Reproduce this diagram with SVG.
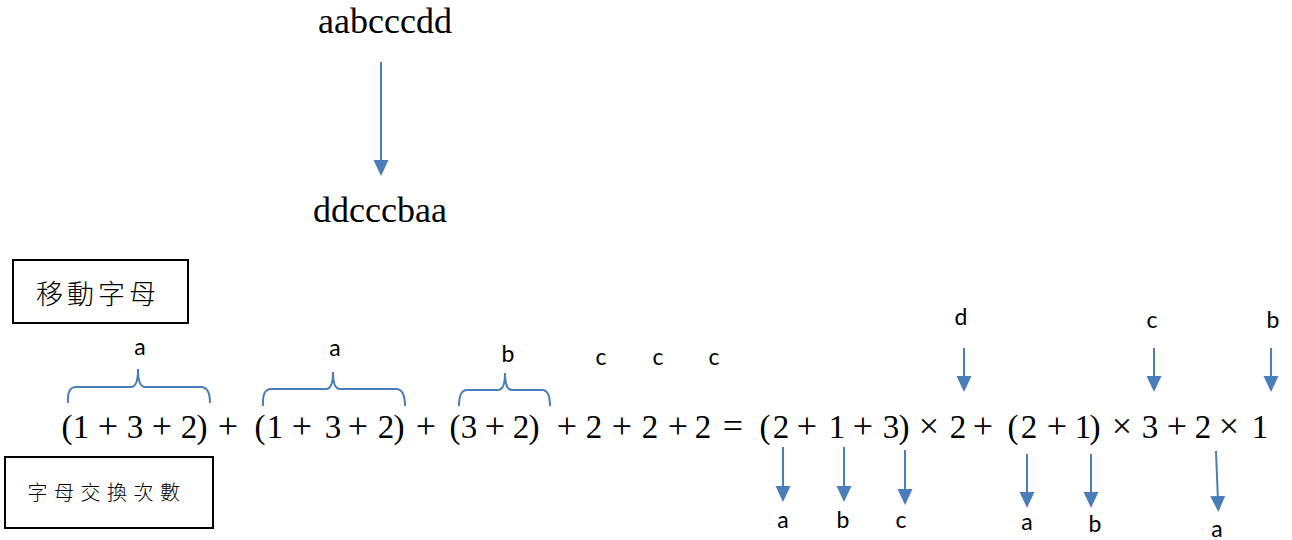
<svg xmlns="http://www.w3.org/2000/svg" width="1292" height="540" viewBox="0 0 1292 540">
<style>
.top{font-family:"Liberation Serif",serif;font-size:36px;fill:#000}
.eq{font-family:"Liberation Serif",serif;font-size:33px;fill:#000;text-anchor:middle}
.op{font-size:36px}
.lbl{font-family:Lato,"Liberation Sans",sans-serif;font-size:23px;fill:#000;text-anchor:middle}
.box{fill:#fff;stroke:#000;stroke-width:2}
.cjk{font-family:"Noto Sans CJK TC","Noto Sans CJK SC",sans-serif;fill:#000;text-anchor:middle;font-weight:300}
.arr{stroke:#4A7EBB;stroke-width:2;fill:none;marker-end:url(#ah)}
.brace{stroke:#4A7EBB;stroke-width:2;fill:none}
</style>
<defs>
<marker id="ah" markerUnits="userSpaceOnUse" markerWidth="16" markerHeight="16" refX="6" refY="8" orient="auto">
<path d="M0,0.5 L16,8 L0,15.5 z" fill="#4A7EBB"/>
</marker>
</defs>

<g id="n-source"><text class="top" x="318" y="33">aabcccdd</text></g>
<g id="n-target"><text class="top" x="313" y="222">ddcccbaa</text></g>

<g id="n-move">
<rect class="box" x="13" y="260" width="175" height="63"/>
<text class="cjk" x="98" y="304" font-size="27" letter-spacing="4">移動字母</text>
</g>
<g id="n-swap">
<rect class="box" x="5" y="457" width="208" height="71"/>
<text class="cjk" x="107" y="500" font-size="20" letter-spacing="6.5">字母交換次數</text>
</g>

<g id="n-equation">
<text class="eq" y="438">
<tspan x="67">(</tspan><tspan x="81">1</tspan><tspan class="op" x="108">+</tspan><tspan x="135">3</tspan><tspan class="op" x="162">+</tspan><tspan x="189">2</tspan><tspan x="206">)</tspan>
<tspan class="op" x="232">+</tspan>
<tspan x="260">(</tspan><tspan x="275">1</tspan><tspan class="op" x="302">+</tspan><tspan x="333">3</tspan><tspan class="op" x="358">+</tspan><tspan x="386">2</tspan><tspan x="403">)</tspan>
<tspan class="op" x="430">+</tspan>
<tspan x="455">(</tspan><tspan x="469">3</tspan><tspan class="op" x="495">+</tspan><tspan x="521">2</tspan><tspan x="538">)</tspan>
<tspan class="op" x="567">+</tspan><tspan x="594">2</tspan><tspan class="op" x="622">+</tspan><tspan x="650">2</tspan><tspan class="op" x="678">+</tspan><tspan x="707">2</tspan>
<tspan class="op" x="737">=</tspan>
<tspan x="765">(</tspan><tspan x="781">2</tspan><tspan class="op" x="807">+</tspan><tspan x="837">1</tspan><tspan class="op" x="863">+</tspan><tspan x="891">3</tspan><tspan x="908">)</tspan>
<tspan class="op" x="929">×</tspan><tspan x="958">2</tspan><tspan class="op" x="987">+</tspan>
<tspan x="1013">(</tspan><tspan x="1029">2</tspan><tspan class="op" x="1057">+</tspan><tspan x="1083">1</tspan><tspan x="1099">)</tspan>
<tspan class="op" x="1122">×</tspan><tspan x="1150">3</tspan><tspan class="op" x="1177">+</tspan><tspan x="1203">2</tspan><tspan class="op" x="1229">×</tspan><tspan x="1260">1</tspan>
</text>
</g>

<g id="labels">
<text class="lbl" x="140" y="355">a</text>
<text class="lbl" x="335" y="356">a</text>
<text class="lbl" x="508" y="362">b</text>
<text class="lbl" x="601" y="365">c</text>
<text class="lbl" x="658" y="365">c</text>
<text class="lbl" x="714" y="365">c</text>
<text class="lbl" x="961" y="325">d</text>
<text class="lbl" x="1152" y="328">c</text>
<text class="lbl" x="1273" y="328">b</text>
<text class="lbl" x="783" y="528">a</text>
<text class="lbl" x="843" y="528">b</text>
<text class="lbl" x="901" y="528">c</text>
<text class="lbl" x="1027" y="530">a</text>
<text class="lbl" x="1095" y="532">b</text>
<text class="lbl" x="1217" y="537">a</text>
</g>

<g id="connectors">
<line class="arr" x1="381" y1="62" x2="381" y2="166"/>
<path class="brace" d="M68,403 Q67,387 76,387 L131,387 Q138,387 138,369 Q138,387 145,387 L201,387 Q210,387 210,403"/>
<path class="brace" d="M263,406 Q262,389 271,389 L326,389 Q333,389 333,372 Q333,389 340,389 L396,389 Q405,389 405,406"/>
<path class="brace" d="M459,406 Q459,390 467,390 L498,390 Q505,390 505,373 Q505,390 512,390 L542,390 Q550,390 550,406"/>
<line class="arr" x1="964" y1="348" x2="964" y2="382"/>
<line class="arr" x1="1154" y1="348" x2="1154" y2="382"/>
<line class="arr" x1="1271" y1="348" x2="1271" y2="382"/>
<line class="arr" x1="783" y1="447" x2="783" y2="492"/>
<line class="arr" x1="844" y1="447" x2="844" y2="492"/>
<line class="arr" x1="905" y1="450" x2="905" y2="495"/>
<line class="arr" x1="1027" y1="454" x2="1027" y2="498"/>
<line class="arr" x1="1091" y1="454" x2="1091" y2="498"/>
<line class="arr" x1="1216" y1="451" x2="1218" y2="502"/>
</g>
</svg>
